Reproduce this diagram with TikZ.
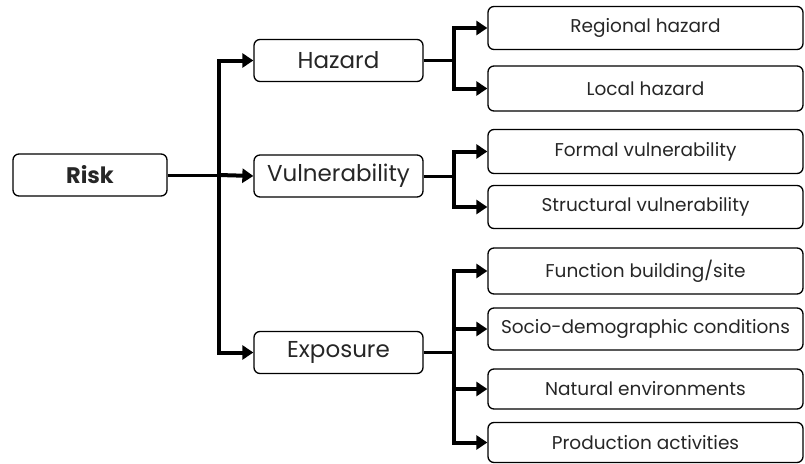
\documentclass[tikz,border=0pt]{standalone}
\usepackage{fontspec}
\setmainfont{Poppins}
\usetikzlibrary{arrows.meta}
\tikzstyle{mainblock} = [rectangle, rounded corners=6pt, minimum width=154pt, minimum height=42pt, text centered, draw=black, line width=1.3pt, font=\fontsize{22.5}{26}\selectfont\bfseries, text=black!85]
\tikzstyle{midblock} = [rectangle, rounded corners=6pt, minimum width=169pt, minimum height=42pt, text centered, draw=black, line width=1.3pt, font=\fontsize{23}{27}\selectfont, text=black!85]
\tikzstyle{leafblock} = [rectangle, rounded corners=6pt, minimum width=315pt, minimum height=42pt, text centered, draw=black, line width=1.3pt, font=\fontsize{18.5}{22}\selectfont, text=black!85]
\tikzstyle{stub} = [line width=3pt]
\tikzstyle{arrow} = [line width=4pt, -{Triangle[length=11pt,width=14pt]}, line join=miter]

\begin{document}
\begin{tikzpicture}[x=1pt, y=-1pt]

	\useasboundingbox (0,0) rectangle (805,463);

	\node (risk)[mainblock] at (90,175) {Risk};

	\node (hazard)[midblock] at (338.5,60.5) {Hazard};

	\node (vuln)[midblock] at (338.5,176) {Vulnerability};

	\node (expo)[midblock] at (338.5,352.5) {Exposure};

	\node (regional)[leafblock, minimum height=43pt] at (645.5,28) {Regional hazard};
	\node (local)[leafblock, minimum height=45pt] at (645.5,88.5) {Local hazard};

	\node (formal)[leafblock, minimum height=44pt] at (645.5,151.5) {Formal vulnerability};
	\node (structural)[leafblock, minimum height=43pt] at (645.5,207) {Structural vulnerability};

	\node (function)[leafblock, minimum height=46pt] at (645.5,271) {Function building/site};
	\node (socio)[leafblock, minimum height=42pt] at (645.5,329) {Socio-demographic conditions};
	\node (natural)[leafblock, minimum height=40pt] at (645.5,389) {Natural environments};
	\node (production)[leafblock, minimum height=40pt] at (645.5,442.5) {Production activities};

	\coordinate (trunk) at (219,175);
	\coordinate (hazSplit) at (454,60.5);
	\coordinate (vulnSplit) at (454,176);
	\coordinate (expoSplit) at (454,352.5);



	\draw [stub] (risk.east) -- (trunk);
	\draw [arrow] (trunk) -- (vuln.west);
	\draw [arrow] (trunk) |- (hazard.west);
	\draw [arrow] (trunk) |- (expo.west);

	\draw [stub] (hazard.east) -- (hazSplit);
	\draw [arrow] (hazSplit) |- (regional.west);
	\draw [arrow] (hazSplit) |- (local.west);

	\draw [stub] (vuln.east) -- (vulnSplit);
	\draw [arrow] (vulnSplit) |- (formal.west);
	\draw [arrow] (vulnSplit) |- (structural.west);

	\draw [stub] (expo.east) -- (expoSplit);
	\draw [arrow] (expoSplit) |- (function.west);
	\draw [arrow] (expoSplit) |- (socio.west);
	\draw [arrow] (expoSplit) |- (natural.west);
	\draw [arrow] (expoSplit) |- (production.west);

\end{tikzpicture}
\end{document}
